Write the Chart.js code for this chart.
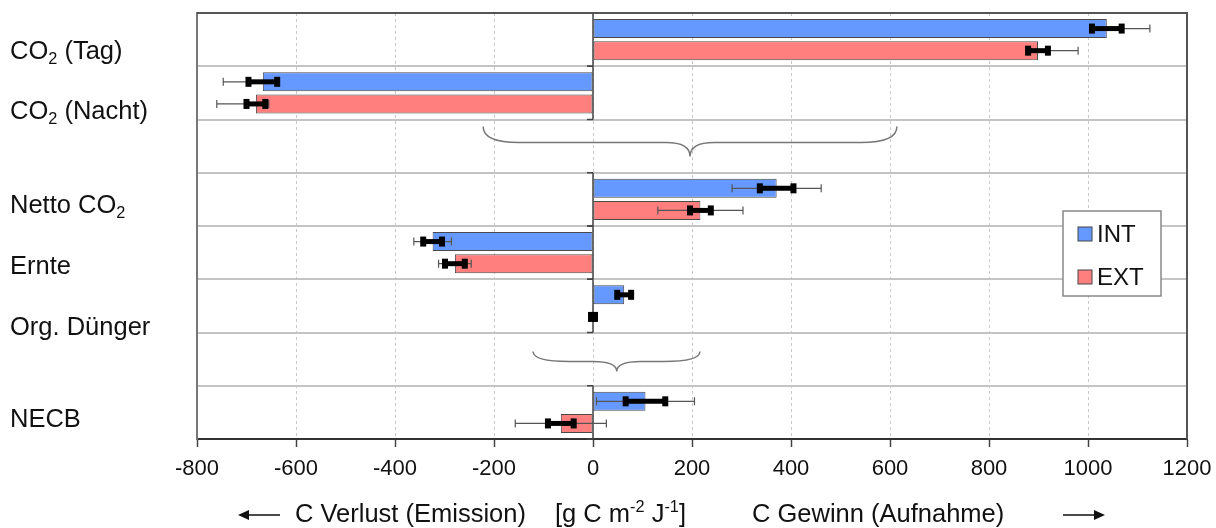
<!DOCTYPE html>
<html>
<head>
<meta charset="utf-8">
<script src="https://cdn.jsdelivr.net/npm/chart.js@4.4.1/dist/chart.umd.min.js"></script>
<style>
  html, body { margin: 0; padding: 0; background: #fff; }
  canvas { display: block; }
</style>
</head>
<body>
<canvas id="balanceChart" width="1216" height="528"></canvas>
<script>
// Kohlenstoffbilanz INT / EXT
const categories = ['CO₂ (Tag)', 'CO₂ (Nacht)', '', 'Netto CO₂', 'Ernte', 'Org. Dünger', '', 'NECB'];
const seriesNames = ['INT', 'EXT'];
const intValues = [1038, -667, null, 371, -324, 63, null, 106];
const extValues = [899, -681, null, 217, -279, 0, null, -65];
// thin whiskers (below / above the value) and thick bar half-widths
const intErrWideLow = [0, 80, null, 90, 38, 0, null, 99];
const intErrWideHigh = [87, 0, null, 90, 38, 0, null, 99];
const intErrNarrow = [30, 29, null, 34, 19, 14, null, 40];
const extErrWideLow = [0, 79, null, 86, 33, 0, null, 92];
const extErrWideHigh = [81, 26, null, 86, 33, 0, null, 92];
const extErrNarrow = [20, 19, null, 21, 20, 4, null, 26];
const xTickValues = [-800, -600, -400, -200, 0, 200, 400, 600, 800, 1000, 1200];

const FONT = '"Liberation Sans", Arial, sans-serif';
const LABEL_SIZE = 25.5;
const LABEL_Y = [52, 112, null, 206, 267, 328, null, 420];
const BRACES = [
    { row: 2, from: -222, to: 614, tip: 196, top: 7, flat: 23, depth: 37 },
    { row: 6, from: -121, to: 216, tip: 48, top: 19, flat: 29, depth: 39 }
];

function drawRich(ctx, parts, x, y, size) {
    // parts: [text, mode] with mode '' | 'sub' | 'sup'
    let cx = x;
    parts.forEach(([t, mode]) => {
        const s = mode ? size * 0.64 : size;
        ctx.font = s + 'px ' + FONT;
        let dy = 0;
        if (mode === 'sub') dy = size * 0.3;
        if (mode === 'sup') dy = -size * 0.3;
        ctx.fillText(t, cx, y + dy);
        cx += ctx.measureText(t).width;
    });
    return cx;
}

function labelParts(text) {
    const out = [];
    text.split('₂').forEach((p, i, arr) => {
        if (p) out.push([p, '']);
        if (i < arr.length - 1) out.push(['2', 'sub']);
    });
    return out;
}

const decorPlugin = {
    id: 'decor',
    afterDatasetsDraw(chart) {
        const ctx = chart.ctx;
        const xs = chart.scales.x;
        const area = chart.chartArea;
        const rowH = (area.bottom - area.top) / categories.length;
        const x0 = xs.getPixelForValue(0);

        ctx.save();
        // zero line only in rows carrying data
        ctx.strokeStyle = '#444';
        ctx.lineWidth = 1.5;
        categories.forEach((c, i) => {
            if (!c) return;
            const t = area.top + i * rowH, b = t + rowH;
            ctx.beginPath();
            ctx.moveTo(x0, t);
            ctx.lineTo(x0, b);
            ctx.moveTo(x0 - 6, t);
            ctx.lineTo(x0, t);
            ctx.moveTo(x0 - 6, b);
            ctx.lineTo(x0, b);
            ctx.stroke();
        });

        // error bars
        const errs = [
            [intValues, intErrWideLow, intErrWideHigh, intErrNarrow],
            [extValues, extErrWideLow, extErrWideHigh, extErrNarrow]
        ];
        errs.forEach(([vals, low, high, narrow], d) => {
            const meta = chart.getDatasetMeta(d);
            vals.forEach((v, j) => {
                if (v == null) return;
                const y = meta.data[j].y;
                const c = xs.getPixelForValue(v);
                ctx.strokeStyle = '#555';
                ctx.lineWidth = 1.2;
                ctx.beginPath();
                if (low[j] > 0) {
                    const a = xs.getPixelForValue(v - low[j]);
                    ctx.moveTo(a, y); ctx.lineTo(c, y);
                    ctx.moveTo(a, y - 4); ctx.lineTo(a, y + 4);
                }
                if (high[j] > 0) {
                    const b = xs.getPixelForValue(v + high[j]);
                    ctx.moveTo(c, y); ctx.lineTo(b, y);
                    ctx.moveTo(b, y - 4); ctx.lineTo(b, y + 4);
                }
                ctx.stroke();
                if (narrow[j] > 0) {
                    const a = xs.getPixelForValue(v - narrow[j]);
                    const b = xs.getPixelForValue(v + narrow[j]);
                    ctx.strokeStyle = '#000';
                    ctx.lineWidth = 5;
                    ctx.beginPath();
                    ctx.moveTo(a, y); ctx.lineTo(b, y);
                    ctx.stroke();
                    ctx.fillStyle = '#000';
                    ctx.fillRect(a - 3, y - 5, 6, 10);
                    ctx.fillRect(b - 3, y - 5, 6, 10);
                }
            });
        });

        // curly braces in the gap rows
        ctx.strokeStyle = '#777';
        ctx.lineWidth = 1.5;
        BRACES.forEach(br => {
            const t = area.top + br.row * rowH;
            const yT = t + br.top, yF = t + br.flat, yP = t + br.depth;
            const a = xs.getPixelForValue(br.from);
            const b = xs.getPixelForValue(br.to);
            const m = xs.getPixelForValue(br.tip);
            const r = 36, r2 = 24;
            ctx.beginPath();
            ctx.moveTo(a, yT);
            ctx.quadraticCurveTo(a, yF, a + r, yF);
            ctx.lineTo(m - r2, yF);
            ctx.quadraticCurveTo(m, yF, m, yP);
            ctx.quadraticCurveTo(m, yF, m + r2, yF);
            ctx.lineTo(b - r, yF);
            ctx.quadraticCurveTo(b, yF, b, yT);
            ctx.stroke();
        });
        ctx.restore();
    },
    afterDraw(chart) {
        const ctx = chart.ctx;
        const area = chart.chartArea;
        ctx.save();
        // top and right frame
        ctx.strokeStyle = '#555';
        ctx.lineWidth = 2;
        ctx.beginPath();
        ctx.moveTo(area.left, area.top);
        ctx.lineTo(area.right, area.top);
        ctx.lineTo(area.right, area.bottom);
        ctx.stroke();

        // category labels
        ctx.fillStyle = '#111';
        ctx.textBaseline = 'middle';
        ctx.textAlign = 'left';
        categories.forEach((c, i) => {
            if (!c) return;
            drawRich(ctx, labelParts(c), 10, LABEL_Y[i], LABEL_SIZE);
        });

        // legend box
        const lx = 1063, ly = 211, lw = 98, lh = 85;
        ctx.fillStyle = '#fff';
        ctx.fillRect(lx, ly, lw, lh);
        ctx.strokeStyle = '#888';
        ctx.lineWidth = 1.5;
        ctx.strokeRect(lx, ly, lw, lh);
        chart.data.datasets.forEach((ds, i) => {
            const cy = 234 + i * 43;
            ctx.fillStyle = ds.backgroundColor;
            ctx.fillRect(lx + 15, cy - 7, 14, 14);
            ctx.strokeStyle = '#444';
            ctx.lineWidth = 1;
            ctx.strokeRect(lx + 15, cy - 7, 14, 14);
            ctx.fillStyle = '#111';
            ctx.font = '24px ' + FONT;
            ctx.fillText(ds.label, lx + 34, cy + 1);
        });

        // axis title with arrows
        const ty = 515;
        ctx.fillStyle = '#111';
        drawRich(ctx, [['C Verlust (Emission)', '']], 295, ty, LABEL_SIZE);
        drawRich(ctx, [['[g C m', ''], ['-2', 'sup'], [' J', ''], ['-1', 'sup'], [']', '']], 555, ty, LABEL_SIZE);
        drawRich(ctx, [['C Gewinn (Aufnahme)', '']], 752, ty, LABEL_SIZE);
        ctx.strokeStyle = '#111';
        ctx.lineWidth = 1.5;
        ctx.beginPath();
        ctx.moveTo(246, ty); ctx.lineTo(280, ty);
        ctx.moveTo(1063, ty); ctx.lineTo(1097, ty);
        ctx.stroke();
        ctx.beginPath();
        ctx.moveTo(238, ty); ctx.lineTo(249, ty - 5); ctx.lineTo(249, ty + 5); ctx.closePath();
        ctx.moveTo(1105, ty); ctx.lineTo(1094, ty - 5); ctx.lineTo(1094, ty + 5); ctx.closePath();
        ctx.fillStyle = '#111';
        ctx.fill();
        ctx.restore();
    }
};

new Chart(document.getElementById('balanceChart'), {
    type: 'bar',
    data: {
        labels: categories,
        datasets: [{
            label: seriesNames[0],
            data: intValues,
            backgroundColor: '#6699ff',
            borderColor: '#4a4a4a',
            borderWidth: 1,
            borderSkipped: false
        }, {
            label: seriesNames[1],
            data: extValues,
            backgroundColor: '#ff7f7f',
            borderColor: '#4a4a4a',
            borderWidth: 1,
            borderSkipped: false
        }]
    },
    options: {
        indexAxis: 'y',
        responsive: false,
        animation: false,
        categoryPercentage: 0.83,
        barPercentage: 0.86,
        layout: { padding: { top: 13, right: 29, left: 0, bottom: 0 } },
        plugins: {
            legend: { display: false },
            tooltip: { enabled: false }
        },
        scales: {
            x: {
                min: -800,
                max: 1200,
                afterBuildTicks: (scale) => {
                    scale.ticks = xTickValues.map(v => ({ value: v }));
                },
                afterFit: (scale) => {
                    scale.height = 89;
                    scale.paddingLeft = 0;
                    scale.paddingRight = 0;
                },
                grid: {
                    color: '#c8c8c8',
                    lineWidth: 1,
                    tickLength: 8,
                    tickColor: '#444',
                    tickWidth: 1.5
                },
                border: { color: '#333', width: 2, dash: [3, 3] },
                ticks: {
                    color: '#111',
                    padding: 9,
                    font: { family: FONT, size: 22 },
                    callback: (v) => String(v)
                }
            },
            y: {
                afterFit: (scale) => { scale.width = 197; },
                ticks: { display: false },
                grid: {
                    color: '#c4c4c4',
                    lineWidth: 2,
                    drawTicks: false,
                    offset: true
                },
                border: { color: '#777', width: 2 }
            }
        }
    },
    plugins: [decorPlugin]
});
</script>
</body>
</html>
